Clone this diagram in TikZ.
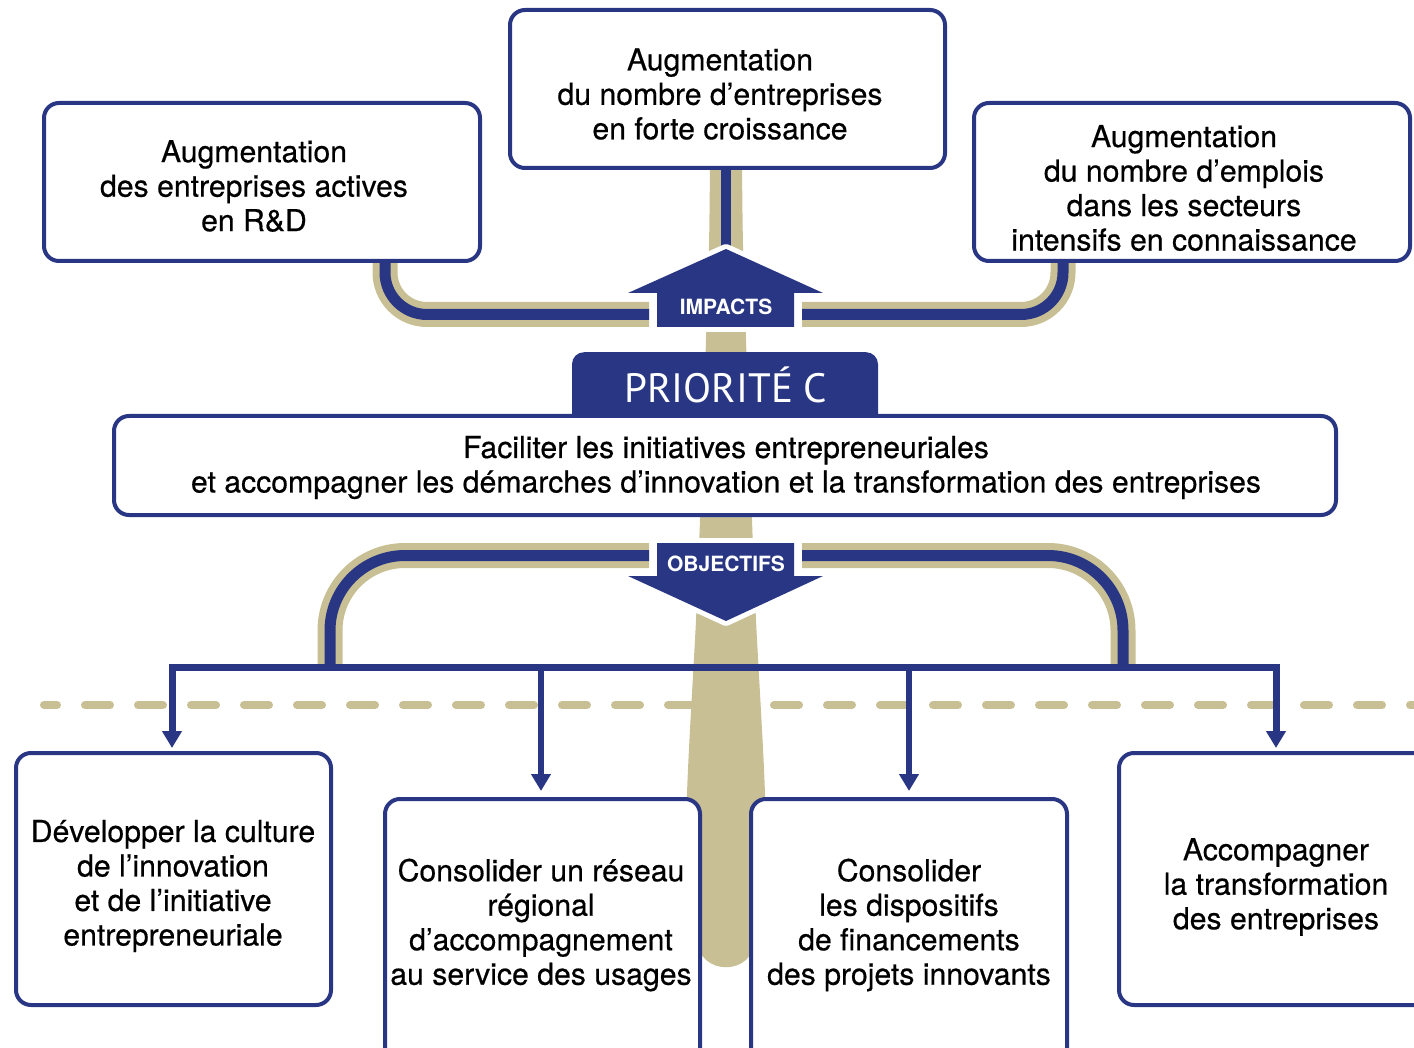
\documentclass[tikz,border=0pt]{standalone}
\usepackage{fontspec}
\setmainfont{TeX Gyre Heros}
\newfontfamily\tabfont{PT Sans}
\usetikzlibrary{arrows.meta}
\definecolor{navy}{RGB}{41,54,132}
\definecolor{sand}{RGB}{200,191,149}
\begin{document}
\begin{tikzpicture}[x=1pt,y=-1pt,
  box/.style={draw=navy, line width=4pt, fill=white, rounded corners=15pt, inner sep=0pt},
  txt/.style={font=\fontsize{30.2}{34.5}\selectfont\addfontfeature{FakeBold=0.5}, align=center, inner sep=0pt},
  band/.style={draw=navy, line width=11pt, preaction={draw=sand, line width=25pt}},
  bigarrow/.style={fill=navy, preaction={draw=white, line width=10pt, line join=round}},
  conn/.style={draw=navy, line width=7pt},
  tips/.style={{Triangle[width=19pt,length=17pt]}-{Triangle[width=19pt,length=17pt]}},
  tip/.style={-{Triangle[width=19pt,length=17pt]}},
  lbl/.style={text=white, font=\bfseries\fontsize{21}{21}\selectfont, inner sep=0pt}
]
\useasboundingbox (0,0) rectangle (1414,1048);
\clip (0,0) rectangle (1414,1048);

% dashed guide line
\draw[sand, line width=8pt, line cap=round, dash pattern=on 25pt off 28pt, dash phase=12pt]
  (44,705) -- (1430,705);

% central trunk
\fill[sand] plot[smooth] coordinates {(710,165) (709,245) (706,340) (700,520) (696,620) (687,795) (690,870) (697,938)}
  .. controls (697,977) and (755,977) .. (755,938)
  -- plot[smooth] coordinates {(755,938) (762,870) (765,795) (756,620) (752,520) (746,340) (743,245) (742,165)} -- cycle;

% anchor points
\coordinate (impApex) at (726,249);
\coordinate (impL) at (649,314.5);
\coordinate (impR) at (802,314.5);
\coordinate (objL) at (649,555.5);
\coordinate (objR) at (802,555.5);
\coordinate (barL) at (172,667.5);
\coordinate (barR) at (1276,667.5);
\coordinate (drop2) at (541,667.5);
\coordinate (drop3) at (909,667.5);

% top stem
\draw[navy, line width=10pt] (726,165) -- (impApex);

% impact bands
\draw[band, rounded corners=42pt] (385,250) -- (385,314.5) -- (impL);
\draw[band, rounded corners=42pt] (1063,250) -- (1063,314.5) -- (impR);

% objective bands
\draw[band, rounded corners=75pt] (objL) -- (330,555.5) -- (330,664);
\draw[band, rounded corners=75pt] (objR) -- (1123,555.5) -- (1123,664);

% block arrows
\path[bigarrow] (impApex) -- (823,293) -- (794,293) -- (794,327) -- (657,327) -- (657,293) -- (628,293) -- cycle;
\node[lbl] (impacts) at (726,307) {IMPACTS};
\path[bigarrow] (657,543) -- (794,543) -- (794,576) -- (823,576) -- (726,621) -- (628,576) -- (657,576) -- cycle;
\node[lbl] (objectifs) at (726,563.5) {OBJECTIFS};

% boxes
\node[box, minimum width=435pt, minimum height=158pt] (tc) at (727.5,89) {};
\node[box, minimum width=436pt, minimum height=158pt] (tl) at (262,182) {};
\node[box, minimum width=436pt, minimum height=158pt] (tr) at (1192,182) {};

\node[fill=navy, rounded corners=12pt, minimum width=306pt, minimum height=80pt, anchor=north] (tab) at (725,352) {};
\node[box, minimum width=1222pt, minimum height=99pt] (prio) at (725,465.5) {};

\node[box, minimum width=315pt, minimum height=252pt] (b1) at (173.5,879) {};
\node[box, minimum width=315pt, minimum height=272pt] (b2) at (542.5,935) {};
\node[box, minimum width=316pt, minimum height=272pt] (b3) at (909,935) {};
\node[box, minimum width=315pt, minimum height=252pt] (b4) at (1276.5,879) {};

% objective connectors
\coordinate (t1) at ([yshift=3pt]b1.north);
\coordinate (t2) at ([yshift=6pt]b2.north);
\coordinate (t3) at ([yshift=6pt]b3.north);
\coordinate (t4) at ([yshift=3pt]b4.north);
\draw[conn, tips] (t1 -| barL) -- (barL) -- (barR) -- (t4 -| barR);
\draw[conn, line width=6pt, tip] (drop2) -- (t2 -| drop2);
\draw[conn, line width=6pt, tip] (drop3) -- (t3 -| drop3);

% texts
\node[txt] (tc-t) at (720,94) {Augmentation\\du nombre d’entreprises\\en forte croissance};
\node[txt] (tl-t) at (254,186) {Augmentation\\des entreprises actives\\en R\&D};
\node[txt] (tr-t) at (1184,188) {Augmentation\\du nombre d’emplois\\dans les secteurs\\intensifs en connaissance};
\node[text=white, inner sep=0pt, anchor=base, font=\tabfont\fontsize{41}{41}\selectfont] (tab-t) at (726,403) {PRIORITÉ C};
\node[txt] (prio-t) at (726,467.5) {Faciliter les initiatives entrepreneuriales\\et accompagner les démarches d’innovation et la transformation des entreprises};
\node[txt] (b1-t) at (173,886) {Développer la culture\\de l’innovation\\et de l’initiative\\entrepreneuriale};
\node[txt] (b2-t) at (541,925) {Consolider un réseau\\régional\\d’accompagnement\\au service des usages};
\node[txt] (b3-t) at (909,925) {Consolider\\les dispositifs\\de financements\\des projets innovants};
\node[txt] (b4-t) at (1276,887) {Accompagner\\la transformation\\des entreprises};
\end{tikzpicture}
\end{document}
